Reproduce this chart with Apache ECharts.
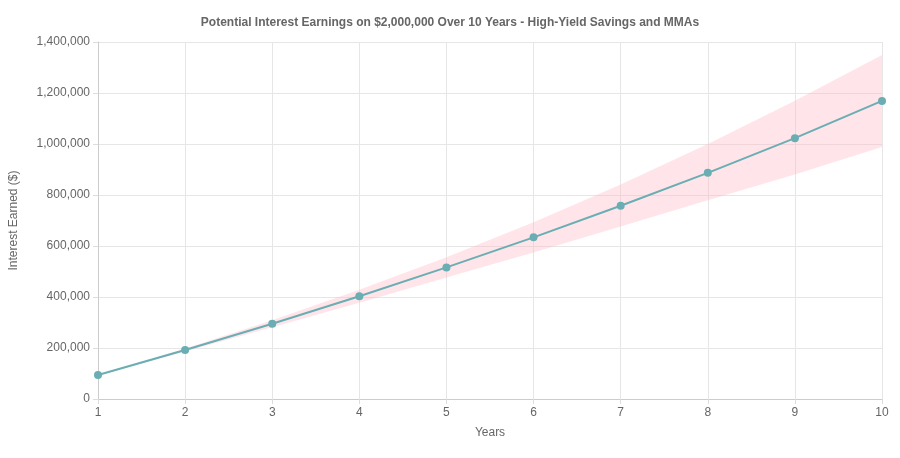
<!DOCTYPE html>
<html><head><meta charset="utf-8">
<script src="https://cdn.jsdelivr.net/npm/echarts@6/dist/echarts.min.js"></script>
<style>html,body{margin:0;padding:0;background:#fff}#c{width:900px;height:458px}</style>
</head><body><div id="c"></div>
<script>
const years = ['1','2','3','4','5','6','7','8','9','10'];
const interest = [94000, 192000, 295000, 403000, 516000, 634000, 758000, 887000, 1023000, 1169000];
const upper = [95500, 198000, 309000, 428000, 556000, 693000, 841000, 1000000, 1170000, 1349000];
const lower = [92500, 186000, 281000, 377000, 476000, 575000, 676000, 779000, 880000, 988000];
const bandDiff = upper.map((u, i) => u - lower[i]);
const chart = echarts.init(document.getElementById('c'));
chart.setOption({
  animation: false,
  title: { text: 'Potential Interest Earnings on $2,000,000 Over 10 Years - High-Yield Savings and MMAs', left: 'center', top: 12,
    textStyle: { fontSize: 12, fontWeight: 'bold', color: '#666', fontFamily: 'Helvetica, Arial, sans-serif' } },
  grid: { left: 97, right: 18, top: 42, bottom: 59 },
  xAxis: { type: 'category', data: years, boundaryGap: false, name: 'Years', nameLocation: 'middle', nameGap: 28,
    nameTextStyle: { color: '#666', fontSize: 12 },
    axisLine: { lineStyle: { color: '#ccc' } }, axisTick: { show: true, lineStyle: { color: '#ddd' } },
    axisLabel: { color: '#666', fontSize: 12 }, splitLine: { show: true, lineStyle: { color: '#e6e6e6' } } },
  yAxis: { type: 'value', min: 0, max: 1400000, interval: 200000, name: 'Interest Earned ($)', nameLocation: 'middle', nameGap: 78,
    nameTextStyle: { color: '#666', fontSize: 12 },
    axisLine: { show: true, lineStyle: { color: '#ccc' } }, axisTick: { show: true, lineStyle: { color: '#ddd' } },
    axisLabel: { color: '#666', fontSize: 12, formatter: v => v.toLocaleString('en-US') },
    splitLine: { lineStyle: { color: '#e6e6e6' } } },
  series: [
    { type: 'line', data: lower, stack: 'band', symbol: 'none', lineStyle: { opacity: 0 }, silent: true },
    { type: 'line', data: bandDiff, stack: 'band', symbol: 'none', lineStyle: { opacity: 0 },
      areaStyle: { color: 'rgba(255,182,193,0.5)' }, silent: true },
    { type: 'line', data: interest, symbol: 'circle', symbolSize: 8, color: '#6aaeb4',
      lineStyle: { color: '#6aaeb4', width: 2 }, itemStyle: { color: '#6aaeb4' } }
  ]
});
</script></body></html>
